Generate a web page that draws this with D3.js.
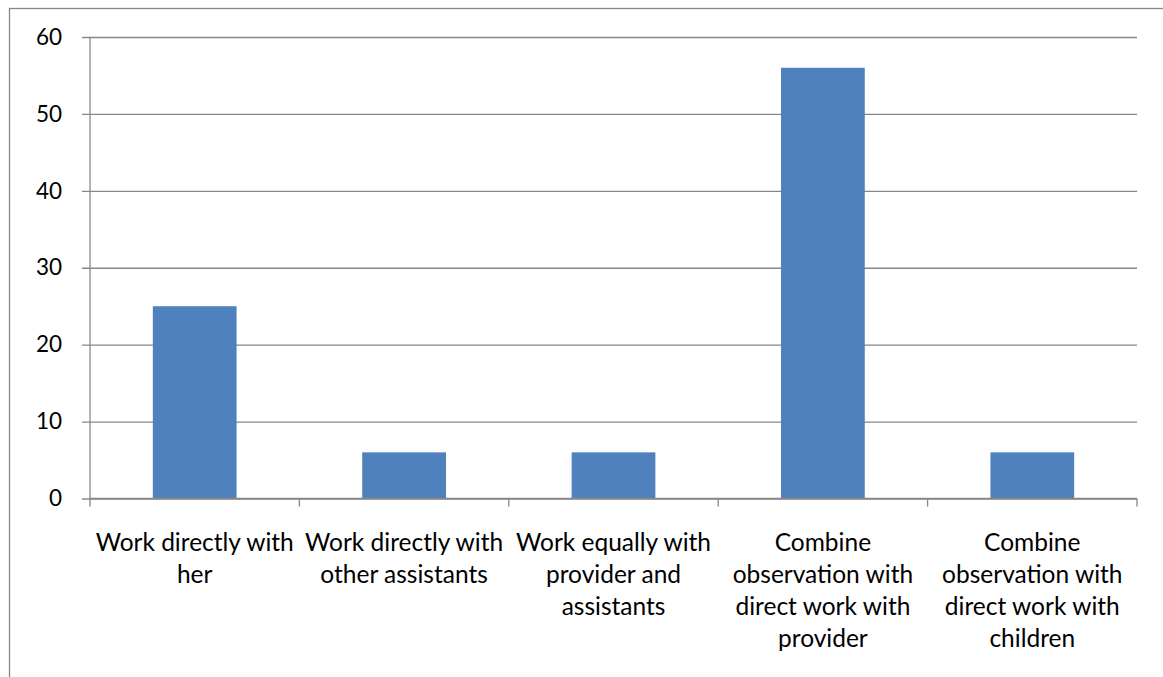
<!DOCTYPE html>
<html>
<head>
<meta charset="utf-8">
<script src="https://cdn.jsdelivr.net/npm/d3@7"></script>
<style>
  html, body { margin: 0; padding: 0; background: #fff; }
  svg { display: block; }
  text { font-family: Lato, "Open Sans", sans-serif; fill: #000; }
</style>
</head>
<body>
<svg id="chart" width="1163" height="677"></svg>
<script>
// Category labels (line breaks as wrapped in the axis)
const categories = [
  "Work directly with\nher",
  "Work directly with\nother assistants",
  "Work equally with\nprovider and\nassistants",
  "Combine\nobservation with\ndirect work with\nprovider",
  "Combine\nobservation with\ndirect work with\nchildren"
];
const values = [25, 6, 6, 56, 6];
const yTicks = [0, 10, 20, 30, 40, 50, 60];

const W = 1163, H = 677;
const plot = { left: 90, right: 1137, top: 37, bottom: 498.5 };
const tickFontSize = 22.5;
const catFontSize = 24.5;
const gridColor = "#878787";
const barColor = "#4F81BD";

const svg = d3.select("#chart");

// Outer chart frame
svg.append("rect")
  .attr("x", 9.5).attr("y", 8.5)
  .attr("width", W + 10).attr("height", H + 10)
  .attr("fill", "none").attr("stroke", gridColor).attr("stroke-width", 1.3);

const x = d3.scaleBand()
  .domain(d3.range(categories.length))
  .range([plot.left, plot.right])
  .padding(0);

const y = d3.scaleLinear()
  .domain([0, 60])
  .range([plot.bottom, plot.top]);

// Horizontal gridlines with left tick marks
const yAxis = d3.axisLeft(y)
  .tickValues(yTicks)
  .tickSize(plot.right - plot.left + 8)
  .tickPadding(20)
  .tickFormat(d3.format("d"));

const gy = svg.append("g")
  .attr("transform", `translate(${plot.right},0)`)
  .call(yAxis);
gy.select(".domain").remove();
gy.selectAll(".tick line")
  .attr("stroke", gridColor).attr("stroke-width", 1.3);
gy.selectAll(".tick text")
  .attr("font-size", tickFontSize)
  .style("font-family", "Lato, sans-serif")
  .attr("fill", "#000");

// Vertical axis line
svg.append("line")
  .attr("x1", plot.left).attr("x2", plot.left)
  .attr("y1", plot.top).attr("y2", plot.bottom)
  .attr("stroke", gridColor).attr("stroke-width", 1.3);

// Bars
const barFrac = 0.4;
svg.append("g").selectAll("rect")
  .data(values)
  .join("rect")
  .attr("x", (d, i) => x(i) + x.bandwidth() * (1 - barFrac) / 2)
  .attr("width", x.bandwidth() * barFrac)
  .attr("y", d => y(d))
  .attr("height", d => y(0) - y(d))
  .attr("fill", barColor);

// Category axis along zero line
const boundaries = d3.range(categories.length + 1).map(i => plot.left + i * x.step());
svg.append("line")
  .attr("x1", plot.left).attr("x2", plot.right)
  .attr("y1", y(0)).attr("y2", y(0))
  .attr("stroke", gridColor).attr("stroke-width", 1.3);
svg.append("g").selectAll("line")
  .data(boundaries)
  .join("line")
  .attr("x1", d => d).attr("x2", d => d)
  .attr("y1", y(0)).attr("y2", y(0) + 8)
  .attr("stroke", gridColor).attr("stroke-width", 1.3);

// Category labels
const lineGap = 32.2;
const labels = svg.append("g").selectAll("text")
  .data(categories)
  .join("text")
  .attr("text-anchor", "middle")
  .attr("font-size", catFontSize)
  .attr("x", (d, i) => x(i) + x.bandwidth() / 2)
  .attr("y", 542);
labels.each(function(d, i) {
  const t = d3.select(this);
  d.split("\n").forEach((ln, k) => {
    t.append("tspan")
      .attr("x", x(i) + x.bandwidth() / 2)
      .attr("y", 542 + k * lineGap)
      .attr("dy", "0.35em")
      .text(ln);
  });
});
</script>
</body>
</html>
